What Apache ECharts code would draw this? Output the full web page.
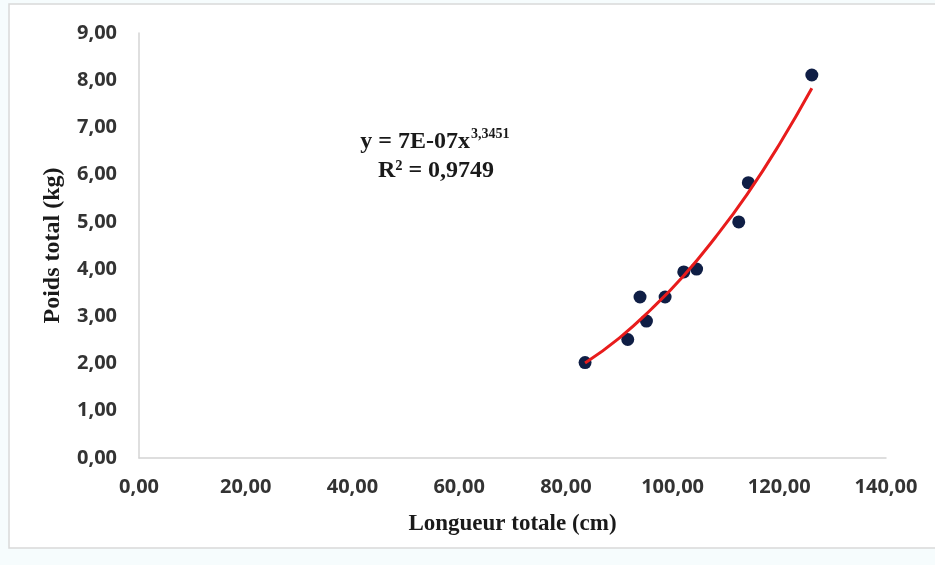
<!DOCTYPE html>
<html>
<head>
<meta charset="utf-8">
<script src="https://cdn.jsdelivr.net/npm/echarts@6/dist/echarts.min.js"></script>
<style>
  html, body { margin: 0; padding: 0; background: #f6fcfd; }
  #main { width: 935px; height: 565px; }
</style>
</head>
<body>
<div id="main"></div>
<script>
var chartDom = document.getElementById('main');
var myChart = echarts.init(chartDom);

// mesures (longueur totale cm, poids total kg)
var longueur = [83.6, 91.6, 93.9, 95.1, 98.6, 102.1, 104.5, 112.4, 114.2, 126.1];
var poids = [2.02, 2.51, 3.41, 2.90, 3.41, 3.94, 4.00, 5.00, 5.83, 8.11];

// courbe de tendance
var trendX = [83.6, 90, 96, 102, 108, 114, 120, 126.1];
var trendY = [2.01, 2.54, 3.15, 3.85, 4.67, 5.59, 6.64, 7.83];

var xTicks = { min: 0, max: 140, step: 20 };
var yTicks = { min: 0, max: 9, step: 1 };

var points = [];
for (var i = 0; i < longueur.length; i++) {
  points.push([longueur[i], poids[i]]);
}
var trend = [];
for (var j = 0; j < trendX.length; j++) {
  trend.push([trendX[j], trendY[j]]);
}

function virgule(v) {
  return v.toFixed(2).replace('.', ',');
}

var labelStyle = {
  fontFamily: 'Open Sans',
  fontWeight: 'bold',
  fontSize: 20,
  color: '#333'
};

var option = {
  animation: false,
  backgroundColor: 'transparent',
  grid: { left: 139, right: 49, top: 33, bottom: 107 },
  xAxis: {
    type: 'value',
    min: xTicks.min,
    max: xTicks.max,
    interval: xTicks.step,
    name: 'Longueur totale (cm)',
    nameLocation: 'middle',
    nameGap: 55,
    nameTextStyle: { fontFamily: 'Liberation Serif', fontWeight: 'bold', fontSize: 23, color: '#1a1a1a' },
    axisLine: { show: true, lineStyle: { color: '#d4d4d4', width: 1.5 } },
    axisTick: { show: false },
    splitLine: { show: false },
    axisLabel: Object.assign({ margin: 19, formatter: virgule }, labelStyle)
  },
  yAxis: {
    type: 'value',
    min: yTicks.min,
    max: yTicks.max,
    interval: yTicks.step,
    name: 'Poids total (kg)',
    nameLocation: 'middle',
    nameGap: 74,
    nameRotate: 90,
    nameTextStyle: { fontFamily: 'Liberation Serif', fontWeight: 'bold', fontSize: 24, color: '#1a1a1a' },
    axisLine: { show: true, lineStyle: { color: '#d4d4d4', width: 1.5 } },
    axisTick: { show: false },
    splitLine: { show: false },
    axisLabel: Object.assign({ margin: 22, formatter: virgule }, labelStyle)
  },
  graphic: [
    {
      type: 'rect',
      z: -10,
      silent: true,
      shape: { x: 9, y: 4, width: 940, height: 544 },
      style: { fill: '#fff', stroke: '#d9d9d9', lineWidth: 1.5 }
    },
    {
      type: 'text',
      x: 470, y: 142,
      style: {
        text: 'y = 7E-07x',
        fontFamily: 'Liberation Serif', fontWeight: 'bold', fontSize: 24,
        fill: '#1a1a1a', align: 'right', verticalAlign: 'middle'
      }
    },
    {
      type: 'text',
      x: 471, y: 134,
      style: {
        text: '3,3451',
        fontFamily: 'Liberation Serif', fontWeight: 'bold', fontSize: 14,
        fill: '#1a1a1a', align: 'left', verticalAlign: 'middle'
      }
    },
    {
      type: 'text',
      x: 436, y: 171,
      style: {
        text: 'R² = 0,9749',
        fontFamily: 'Liberation Serif', fontWeight: 'bold', fontSize: 24,
        fill: '#1a1a1a', align: 'center', verticalAlign: 'middle'
      }
    }
  ],
  series: [
    {
      type: 'scatter',
      data: points,
      symbolSize: 13,
      itemStyle: { color: '#0f1e45', opacity: 1 },
      z: 2
    },
    {
      type: 'line',
      data: trend,
      smooth: true,
      showSymbol: false,
      lineStyle: { color: '#e81c1c', width: 3 },
      z: 3
    }
  ]
};
myChart.setOption(option);

window.addEventListener('resize', function () {
  myChart.resize();
});
</script>
</body>
</html>
